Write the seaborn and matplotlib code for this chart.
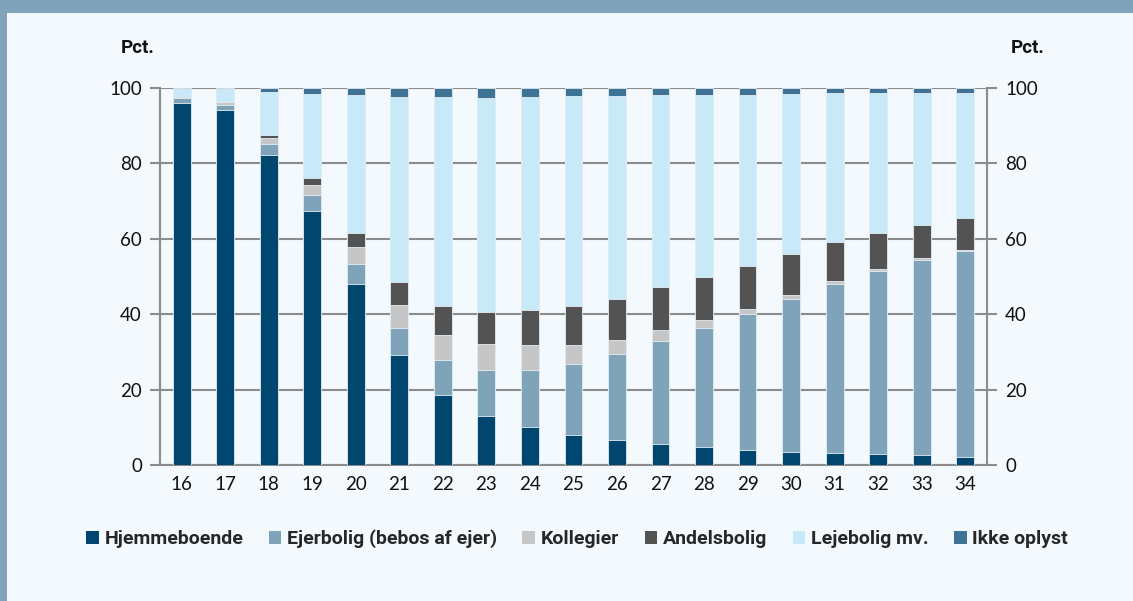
import numpy as np
import pandas as pd
import matplotlib
matplotlib.use("Agg")
import matplotlib.pyplot as plt
from matplotlib.patches import Patch, Rectangle
import seaborn as sns

# Age groups on the x axis
ages = [str(a) for a in range(16, 35)]

# Share (pct.) per housing type
hjemmeboende = [96.1, 94.2, 82.2, 67.4, 48.0, 29.1, 18.5, 13.0, 10.1, 8.0,
                6.6, 5.6, 4.8, 3.9, 3.4, 3.2, 2.9, 2.7, 2.2]
ejerbolig = [1.2, 1.3, 2.9, 4.2, 5.4, 7.2, 9.4, 12.1, 15.2, 18.9,
             22.9, 27.3, 31.5, 36.2, 40.7, 44.9, 48.5, 51.8, 54.5]
kollegier = [0.1, 0.7, 1.7, 2.8, 4.4, 6.1, 6.7, 6.9, 6.4, 4.8,
             3.7, 2.8, 2.2, 1.4, 0.9, 0.6, 0.5, 0.4, 0.4]
andelsbolig = [0.1, 0.1, 0.6, 1.6, 3.7, 6.1, 7.6, 8.5, 9.4, 10.4,
               10.9, 11.4, 11.4, 11.2, 11.0, 10.5, 9.7, 8.8, 8.5]
lejebolig = [2.3, 3.5, 11.6, 22.4, 36.6, 49.0, 55.3, 56.9, 56.4, 55.7,
             53.8, 51.0, 48.2, 45.4, 42.4, 39.4, 37.0, 34.9, 33.1]
ikke_oplyst = [0.2, 0.2, 1.0, 1.6, 1.9, 2.5, 2.5, 2.6, 2.5, 2.2,
               2.1, 1.9, 1.9, 1.9, 1.6, 1.4, 1.4, 1.4, 1.3]

series_names = ["Hjemmeboende", "Ejerbolig (bebos af ejer)", "Kollegier",
                "Andelsbolig", "Lejebolig mv.", "Ikke oplyst"]
series_values = [hjemmeboende, ejerbolig, kollegier, andelsbolig, lejebolig, ikke_oplyst]
colors = ["#00466E", "#7FA3B8", "#C6C6C6", "#535353", "#C7E9F8", "#3E7396"]

bg = "#F4F9FE"
frame = "#7FA3B8"
gridc = "#8C8C8C"

sns.set_style("white")
plt.rcParams["font.family"] = ["Lato", "DejaVu Sans"]
bold_font = ["Roboto", "DejaVu Sans"]

fig = plt.figure(figsize=(11.33, 6.01), dpi=100, facecolor=bg)
ax = fig.add_axes([0.1412, 0.2263, 0.7299, 0.6273])
ax.set_facecolor(bg)

# Frame: band on top and line on the left
fig.patches.append(Rectangle((0, 1 - 13 / 601), 1, 13 / 601, transform=fig.transFigure,
                             facecolor=frame, edgecolor="none", zorder=0))
fig.patches.append(Rectangle((0, 0), 7 / 1133, 1, transform=fig.transFigure,
                             facecolor=frame, edgecolor="none", zorder=0))

# Stacked bars: draw cumulative totals from the top layer down
df = pd.DataFrame({"age": ages})
cum = np.cumsum(np.array(series_values), axis=0)
for i in reversed(range(len(series_names))):
    df["val"] = cum[i]
    sns.barplot(data=df, x="age", y="val", color=colors[i], width=0.41,
                edgecolor="#E4EEF4", linewidth=0.6, saturation=1, ax=ax, zorder=3)

ax.set_xlim(-0.5, len(ages) - 0.5)
ax.set_ylim(0, 100)
ax.set_yticks([0, 20, 40, 60, 80, 100])
ax.set_xlabel("")
ax.set_ylabel("")
ax.grid(axis="y", color=gridc, linewidth=1.5, zorder=1)
ax.set_axisbelow(True)

for side in ["left", "right", "bottom"]:
    ax.spines[side].set_visible(True)
    ax.spines[side].set_color(gridc)
    ax.spines[side].set_linewidth(1.5)
ax.spines["top"].set_visible(False)

# x ticks sit between the groups
ax.set_xticks(np.arange(len(ages)), ages)
ax.set_xticks(np.arange(-0.5, len(ages) + 0.5, 1), minor=True)
ax.tick_params(axis="x", which="major", length=0, labelsize=13.5, pad=8, colors="#111111")
ax.tick_params(axis="x", which="minor", length=6, width=1.5, color=gridc, direction="out")
ax.tick_params(axis="y", length=7, width=1.5, color=gridc, labelsize=13.5,
               labelcolor="#111111", left=True, right=True, labelleft=True,
               labelright=True, pad=6)

fig.text(138 / 1133, 1 - 48 / 601, "Pct.", fontsize=13.5, fontweight="bold",
         family=bold_font, ha="center", va="center", color="#111111")
fig.text(1028 / 1133, 1 - 48 / 601, "Pct.", fontsize=13.5, fontweight="bold",
         family=bold_font, ha="center", va="center", color="#111111")

handles = [Patch(facecolor=c, edgecolor="none") for c in colors]
fig.legend(handles, series_names, loc="center", bbox_to_anchor=(577 / 1133, 1 - 539 / 601),
           ncol=6, frameon=False, handlelength=0.65, handleheight=0.65, handletextpad=0.3,
           columnspacing=1.3, prop={"weight": "bold", "size": 14, "family": bold_font})

fig.savefig("out.png", dpi=100, facecolor=bg)
